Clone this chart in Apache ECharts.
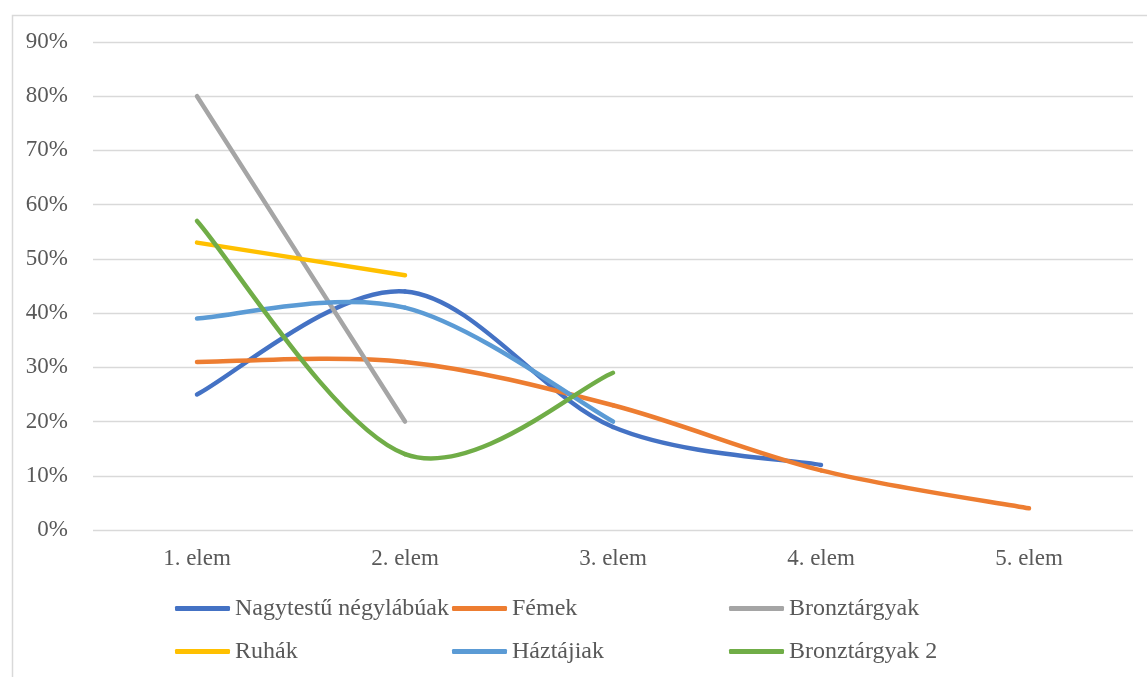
<!DOCTYPE html>
<html>
<head>
<meta charset="utf-8">
<script src="https://cdn.jsdelivr.net/npm/echarts@6/dist/echarts.min.js"></script>
<style>html,body{margin:0;padding:0;background:#fff;}#c{width:1147px;height:677px;}</style>
</head>
<body>
<div id="c"></div>
<script>
const categories = ['1. elem', '2. elem', '3. elem', '4. elem', '5. elem'];
const seriesNames = ['Nagytestű négylábúak', 'Fémek', 'Bronztárgyak', 'Ruhák', 'Háztájiak', 'Bronztárgyak 2'];
const nagytestu = [0.25, 0.44, 0.19, 0.12, null];
const femek = [0.31, 0.31, 0.23, 0.11, 0.04];
const bronz = [0.80, 0.20, null, null, null];
const ruhak = [0.53, 0.47, null, null, null];
const haztajiak = [0.39, 0.41, 0.20, null, null];
const bronz2 = [0.57, 0.14, 0.29, null, null];

const colors = ['#4472C4', '#ED7D31', '#A5A5A5', '#FFC000', '#5B9BD5', '#70AD47'];
const dataSets = [nagytestu, femek, bronz, ruhak, haztajiak, bronz2];
const font = 'Liberation Serif, Times New Roman, serif';

// Excel-like smoothed line (Catmull-Rom style Bezier) drawn through the axis scales
function makeRender(values, color) {
  return function (params, api) {
    const pts = [];
    values.forEach((v, i) => { if (v != null) pts.push(api.coord([i, v])); });
    const children = [];
    const style = { fill: 'none', stroke: color, lineWidth: 4.5, lineCap: 'round', lineJoin: 'round' };
    const k = 1 / 6;
    for (let i = 0; i < pts.length - 1; i++) {
      const p0 = pts[i - 1] || pts[i];
      const p1 = pts[i];
      const p2 = pts[i + 1];
      const p3 = pts[i + 2] || pts[i + 1];
      children.push({
        type: 'bezierCurve',
        shape: {
          x1: p1[0], y1: p1[1], x2: p2[0], y2: p2[1],
          cpx1: p1[0] + (p2[0] - p0[0]) * k, cpy1: p1[1] + (p2[1] - p0[1]) * k,
          cpx2: p2[0] - (p3[0] - p1[0]) * k, cpy2: p2[1] - (p3[1] - p1[1]) * k
        },
        style: style
      });
    }
    return { type: 'group', children: children };
  };
}

const chart = echarts.init(document.getElementById('c'));
chart.setOption({
  animation: false,
  color: colors,
  graphic: [{
    type: 'rect', left: 10, top: 13, silent: true,
    shape: { width: 1300, height: 800 },
    style: { fill: 'none', stroke: '#D9D9D9', lineWidth: 1.5 }
  }],
  grid: { left: 93, right: 14, top: 42, bottom: 147, containLabel: false },
  legend: {
    left: 175, top: 587, width: 840, padding: 0,
    itemWidth: 55, itemHeight: 5, itemGap: 0,
    icon: 'roundRect',
    textStyle: { fontFamily: font, fontSize: 24, color: '#595959', width: 217, lineHeight: 43, overflow: 'none' },
    data: seriesNames
  },
  xAxis: {
    type: 'category', data: categories, boundaryGap: true,
    axisLine: { show: false }, axisTick: { show: false },
    axisLabel: { fontFamily: font, fontSize: 23, color: '#595959', margin: 17 }
  },
  yAxis: {
    type: 'value', min: 0, max: 0.9, interval: 0.1,
    axisLine: { show: false }, axisTick: { show: false },
    splitLine: { lineStyle: { color: '#D9D9D9', width: 1.3 } },
    axisLabel: {
      fontFamily: font, fontSize: 23, color: '#595959', margin: 25,
      formatter: v => Math.round(v * 100) + '%'
    }
  },
  series: seriesNames.map((n, i) => ({
    name: n, type: 'custom',
    coordinateSystem: 'cartesian2d',
    data: [[0, dataSets[i][0]]],
    encode: { x: 0, y: 1 },
    renderItem: makeRender(dataSets[i], colors[i]),
    itemStyle: { color: colors[i] }
  }))
});
</script>
</body>
</html>
